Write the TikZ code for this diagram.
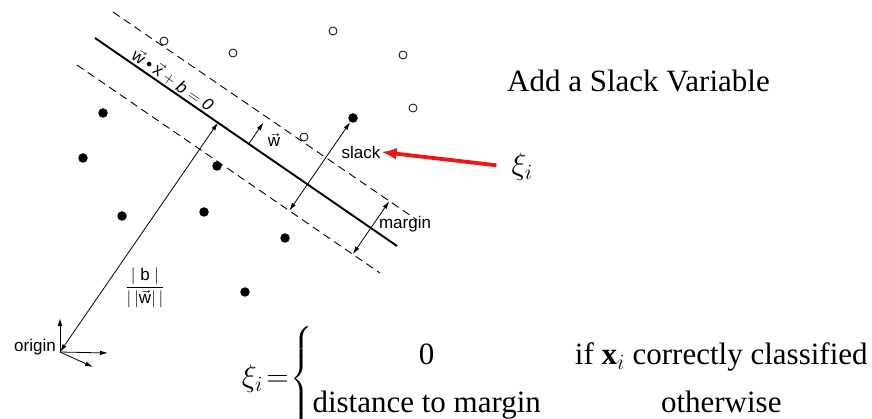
\RequirePackage{fix-cm}
\documentclass[tikz,border=0pt]{standalone}
\usepackage{amsmath}
\usepackage{fontspec}
\setmainfont{Liberation Serif}
\setsansfont{Liberation Sans}
\usetikzlibrary{arrows.meta,calc,positioning}
\definecolor{slackred}{RGB}{240,20,20}

\begin{document}
\begin{tikzpicture}[x=1pt,y=-1pt,
lbl/.style={font=\sffamily\fontsize{17}{20}\selectfont,inner sep=1pt},
big/.style={font=\fontsize{31}{37}\selectfont,inner sep=0pt},
hyper/.style={line width=1.9pt},
marg/.style={line width=.9pt,dash pattern=on 8pt off 5pt},
arr/.style={-{Latex[length=8pt,width=4.5pt]},line width=.8pt},
both/.style={{Latex[length=8pt,width=4.5pt]}-{Latex[length=8pt,width=4.5pt]},line width=.8pt},
posdot/.style={circle,draw,line width=.8pt,minimum size=8pt,inner sep=0pt},
negdot/.style={circle,fill,minimum size=9.5pt,inner sep=0pt},
redarr/.style={-{Latex[length=15pt,width=12pt]},line width=3.8pt,draw=slackred}]

\useasboundingbox (0,0) rectangle (872,419);
\coordinate (h1) at (95,38); \coordinate (h2) at (397,246);
\coordinate (u1) at (113,12); \coordinate (u2) at (417,220);
\coordinate (l1) at (77,65); \coordinate (l2) at (380,273);
\draw[hyper] (h1)--(h2);
\draw[marg] (u1)--(u2);
\draw[marg] (l1)--(l2);
\path (h1)--(h2) node[lbl,sloped,above,pos=.24,inner sep=2pt] (heq) {$\vec{\mathsf{w}}\mathbin{\text{•}}\vec{\mathsf{x}}+\text{\itshape b}=\text{\itshape 0}$};

\foreach \p [count=\i] in {(164,41),(233,53),(333,31),(403,55),(413,108),(304,137)}
  \node[posdot] (p\i) at \p {};
\foreach \p [count=\i] in {(103,113),(83,158),(217,166),(122,216),(204,212),(285,238),(245,292),(353,118)}
  \node[negdot] (n\i) at \p {};

\coordinate (o) at (60,352);
\coordinate (ax1) at (60,318); \coordinate (ax2) at (108,353); \coordinate (ax3) at (93,367);
\draw[arr] (o)--(ax1);
\draw[arr] (o)--(ax2);
\draw[arr] (o)--(ax3);
\node[lbl,anchor=east] (orig) at (57,347) {origin};
\coordinate (f) at ($(h1)!(o)!(h2)$);
\draw[both] (o)--(f);
\node[lbl] (frac) at (145,288) {$\displaystyle\frac{|\;\mathsf{b}\;|}{|\,|\vec{\mathsf{w}}|\,|}$};

\coordinate (wb) at ($(h1)!.509!(h2)$);
\coordinate (wt) at ($(wb)!26pt!90:(h2)$);
\draw[arr] (wb)--(wt);
\node[lbl] (wlab) at (274,140) {$\vec{\mathsf{w}}$};

\coordinate (sf) at ($(l1)!(n8)!(l2)$);
\draw[both] (sf)--(n8);
\node[lbl] (slack) at (361,152) {slack};
\coordinate (m1) at ($(u1)!.909!(u2)$);
\coordinate (m2) at ($(l1)!(m1)!(l2)$);
\draw[both] (m1)--(m2);
\node[lbl] (marglab) at (405,224) {margin};

\node[big,anchor=west] (title) at (507,81) {Add a Slack Variable};
\node[big] (xi) at (522,167) {$\xi_i$};
\draw[redarr,shorten <=15pt] (xi.west)--(slack.east);

\node[big,anchor=east] (xieq) at (869,379) {$\xi_i\mkern-3mu=\mkern-4mu\left\{\renewcommand\arraystretch{1.3}\begin{array}{@{}c@{\hspace{34pt}}c@{}}
\text{0} & \text{if }\mathbf{x}_i\text{ correctly classified}\\
\text{distance to margin} & \text{otherwise}\end{array}\right.$};
\end{tikzpicture}
\end{document}
